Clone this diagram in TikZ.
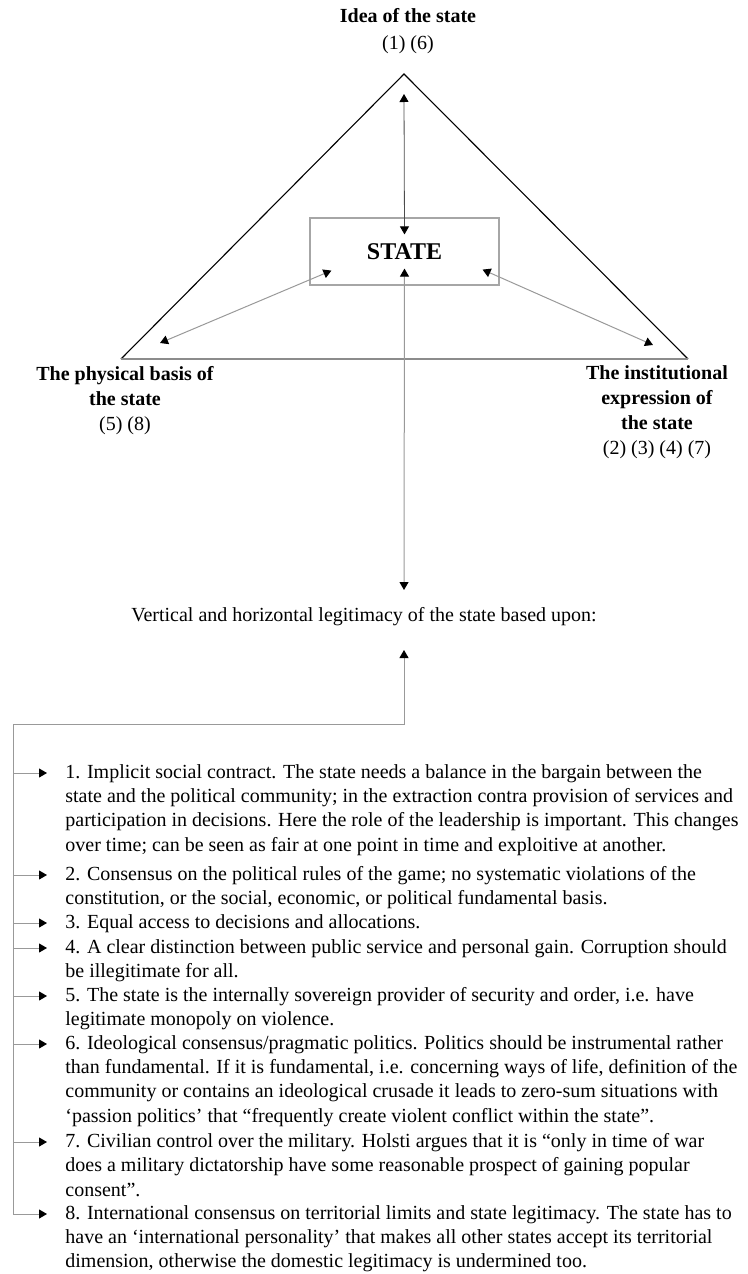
\documentclass[tikz,border=0pt]{standalone}
\usepackage{fontspec}
\setmainfont{Liberation Serif}
\usetikzlibrary{arrows.meta}

\tikzset{
  lbl/.style={font=\fontsize{20}{25}\selectfont\bfseries,align=center,inner sep=0pt},
  itembox/.style={anchor=north west,align=left,inner sep=0pt,font=\fontsize{20}{24.3}\selectfont},
  tip/.style={-{Triangle[length=8pt,width=9pt,color=black]}},
  dtip/.style={{Triangle[length=8pt,width=9pt,color=black]}-{Triangle[length=8pt,width=9pt,color=black]}},
  conn/.style={draw=black!40,line width=1pt},
}

\begin{document}
\begin{tikzpicture}[x=1pt,y=-1pt,line width=.8pt]
\path[use as bounding box] (0,0) rectangle (747,1274);
% triangle
\coordinate (apex) at (404,74);
\coordinate (bl) at (121,359);
\coordinate (br) at (688,359);
\draw[line width=1.1pt] (bl) -- (apex) -- (br);
\draw[black!45,line width=2.2pt] (bl) -- (br);
\node[draw=black!35,line width=1.2pt,minimum width=189pt,minimum height=67pt,inner sep=0pt,font=\fontsize{24}{28}\selectfont\bfseries] (state) at (404.5,251.5) {STATE};
% corner labels
\node[lbl] (idea) at (408,31) {Idea of the state\\[2pt]\mdseries (1) (6)};
\node[lbl] (phys) at (125,401) {The physical basis of\\the state\\\mdseries (5) (8)};
\node[lbl] (inst) at (657,412) {The institutional\\expression of\\the state\\\mdseries (2) (3) (4) (7)};
\coordinate (ideatip) at (404,94);
\coordinate (phystip) at (160,343);
\coordinate (insttip) at (653,345);
\draw[dtip,black!70] (ideatip) -- ([yshift=-17pt]state.north);
\draw[dtip,conn] (phystip) -- ([shift={(22,-15)}]state.south west);
\draw[dtip,conn] (insttip) -- ([shift={(-17,-16)}]state.south east);
% legitimacy
\node[font=\fontsize{20}{24}\selectfont,inner sep=0pt] (legit) at (364,617) {Vertical and horizontal legitimacy of the state based upon:};
\coordinate (down) at (404,590);
\coordinate (up) at (404,650);
\draw[dtip,conn] ([yshift=17pt]state.south) -- (down);
% items
\node[itembox] (i1) at (65,764) {1. Implicit social contract. The state needs a balance in the bargain between the\\
state and the political community; in the extraction contra provision of services and\\
participation in decisions. Here the role of the leadership is important. This changes\\
over time; can be seen as fair at one point in time and exploitive at another.};
\node[itembox] (i2) at (65,866) {2. Consensus on the political rules of the game; no systematic violations of the\\
constitution, or the social, economic, or political fundamental basis.};
\node[itembox] (i3) at (65,914) {3. Equal access to decisions and allocations.};
\node[itembox] (i4) at (65,939) {4. A clear distinction between public service and personal gain. Corruption should\\
be illegitimate for all.};
\node[itembox] (i5) at (65,987) {5. The state is the internally sovereign provider of security and order, i.e. have\\
legitimate monopoly on violence.};
\node[itembox] (i6) at (65,1035) {6. Ideological consensus/pragmatic politics. Politics should be instrumental rather\\
than fundamental. If it is fundamental, i.e. concerning ways of life, definition of the\\
community or contains an ideological crusade it leads to zero-sum situations with\\
‘passion politics’ that “frequently create violent conflict within the state”.};
\node[itembox] (i7) at (65,1133) {7. Civilian control over the military. Holsti argues that it is “only in time of war\\
does a military dictatorship have some reasonable prospect of gaining popular\\
consent”.};
\node[itembox] (i8) at (65,1205) {8. International consensus on territorial limits and state legitimacy. The state has to\\
have an ‘international personality’ that makes all other states accept its territorial\\
dimension, otherwise the domestic legitimacy is undermined too.};
% spine
\coordinate (corner) at (13,724);
\foreach \i in {1,...,8}{
  \path (i\i.north west) ++(0,9) coordinate (t\i);
  \draw[tip,conn] (corner |- t\i) -- ([xshift=-18pt]t\i);
}
\draw[tip,conn] (corner |- t8) -- (corner) -| (up);
\end{tikzpicture}
\end{document}
